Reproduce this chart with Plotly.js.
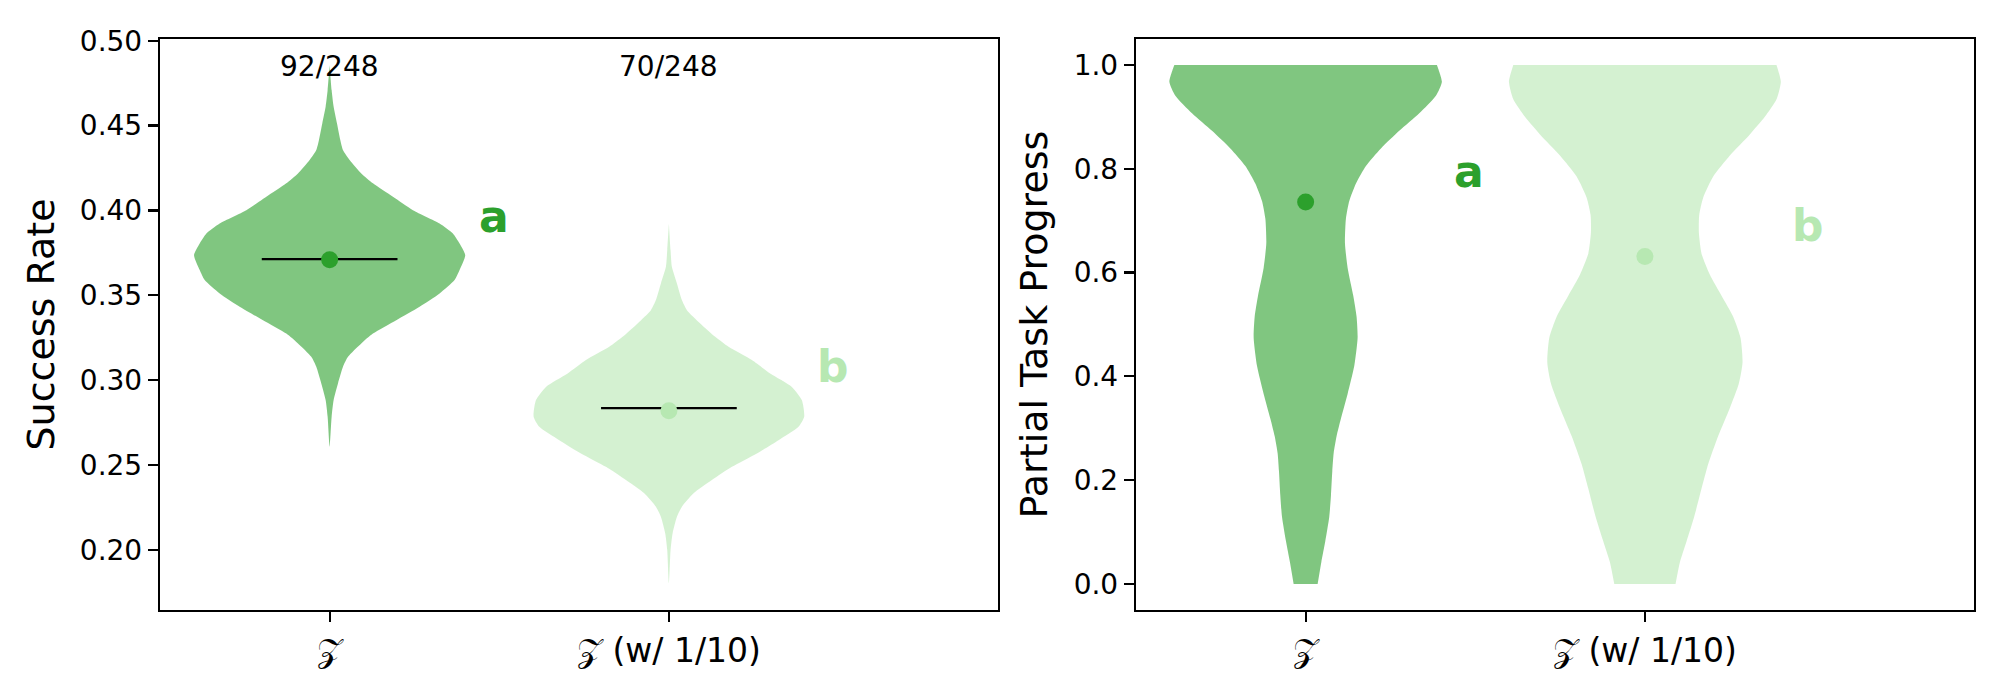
<!DOCTYPE html>
<html>
<head>
<meta charset="utf-8">
<script src="https://cdn.plot.ly/plotly-3.0.1.min.js"></script>
<style>
  body { margin: 0; background: #fff; }
  #graph { width: 2000px; height: 700px; }
</style>
</head>
<body>
<div id="graph"></div>
<script>
// categories
const groups = ["𝒵", "𝒵 (w/ 1/10)"];
const positions = [1, 2];
const letters = ["a", "b"];
const colors = ["#2ca02c", "#b7e8b2"];

// left panel: success rate
const successCounts = ["92/248", "70/248"];
const successMeans = [0.371, 0.282];
const successMedians = [0.3714, 0.2836];

// violin outlines (value, half width)
const successZ_y = [0.2608, 0.2785, 0.2883, 0.2981, 0.3079, 0.3138, 0.3217, 0.3275, 0.3354, 0.3433, 0.3511, 0.3590, 0.3649, 0.3737, 0.3806, 0.3865, 0.3924, 0.4002, 0.4081, 0.4160, 0.4218, 0.4297, 0.4356, 0.4415, 0.4513, 0.4611, 0.4709, 0.4856];
const successZ_w = [0, 0.0059, 0.0118, 0.0246, 0.0393, 0.054, 0.0933, 0.1277, 0.1964, 0.2651, 0.3241, 0.3683, 0.383, 0.3997, 0.383, 0.3633, 0.3241, 0.2455, 0.1866, 0.1277, 0.0933, 0.0589, 0.0393, 0.0314, 0.0216, 0.0118, 0.0059, 0];
const successZ10_y = [0.1804, 0.2000, 0.2098, 0.2196, 0.2255, 0.2334, 0.2412, 0.2490, 0.2569, 0.2647, 0.2726, 0.2785, 0.2883, 0.2961, 0.3040, 0.3119, 0.3197, 0.3256, 0.3335, 0.3413, 0.3472, 0.3570, 0.3668, 0.3767, 0.3924];
const successZ10_w = [0, 0.0049, 0.0108, 0.0236, 0.0383, 0.0727, 0.1267, 0.1856, 0.2592, 0.3231, 0.382, 0.3987, 0.3918, 0.3624, 0.2985, 0.2445, 0.1758, 0.1365, 0.0923, 0.053, 0.0383, 0.0236, 0.0088, 0.0049, 0];

// right panel: partial task progress
const progressMeans = [0.736, 0.631];
const progressZ_y = [0, 0.0419, 0.0824, 0.1297, 0.1703, 0.2176, 0.2514, 0.2851, 0.3189, 0.3662, 0.4203, 0.4743, 0.5149, 0.5554, 0.6095, 0.6568, 0.7041, 0.7378, 0.7716, 0.8054, 0.8392, 0.8730, 0.9068, 0.9405, 0.9676, 1.0];
const progressZ_w = [0.0354, 0.0462, 0.0579, 0.0697, 0.0746, 0.0786, 0.0825, 0.0913, 0.1041, 0.1237, 0.1434, 0.1532, 0.1502, 0.1404, 0.1237, 0.1159, 0.1188, 0.1286, 0.1483, 0.1777, 0.2219, 0.2759, 0.3349, 0.384, 0.4016, 0.3869];
const progressZ10_y = [0, 0.0419, 0.0824, 0.1297, 0.1838, 0.2311, 0.2851, 0.3392, 0.3865, 0.4270, 0.4743, 0.5149, 0.5554, 0.5959, 0.6365, 0.677, 0.7108, 0.7446, 0.7851, 0.8257, 0.8662, 0.9, 0.9338, 0.9676, 1.0];
const progressZ10_w = [0.0903, 0.1031, 0.1228, 0.1453, 0.1669, 0.1866, 0.216, 0.2504, 0.2769, 0.2877, 0.2818, 0.2602, 0.2259, 0.1915, 0.1669, 0.1591, 0.1601, 0.1719, 0.2013, 0.2504, 0.3093, 0.3535, 0.3879, 0.4007, 0.3879];

// letter label positions
const successLetterY = [0.380, 0.292];
const progressLetterY = [0.742, 0.637];

const FONT = "DejaVu Sans";

function fade(hex, a) {
  const r = parseInt(hex.slice(1, 3), 16);
  const g = parseInt(hex.slice(3, 5), 16);
  const b = parseInt(hex.slice(5, 7), 16);
  return `rgba(${r},${g},${b},${a})`;
}

function violin(pos, ys, ws, color, xa, ya) {
  const x = [];
  const y = [];
  const n = ys.length;
  for (let i = 0; i < n; i++) {
    x.push(pos + ws[i]);
    y.push(ys[i]);
  }
  // repeat the top corners so the spline keeps a flat, sharp top
  x.push(pos + ws[n - 1]);
  y.push(ys[n - 1]);
  x.push(pos - ws[n - 1]);
  y.push(ys[n - 1]);
  for (let i = n - 1; i >= 0; i--) {
    x.push(pos - ws[i]);
    y.push(ys[i]);
  }
  return {
    x: x, y: y, xaxis: xa, yaxis: ya,
    type: "scatter", mode: "lines", fill: "toself",
    fillcolor: fade(color, 0.6),
    line: { width: 0, shape: "spline", smoothing: 0.6, simplify: false, color: fade(color, 0) },
    hoverinfo: "skip", showlegend: false,
  };
}

const traces = [
  violin(positions[0], successZ_y, successZ_w, colors[0], "x", "y"),
  violin(positions[1], successZ10_y, successZ10_w, colors[1], "x", "y"),
  violin(positions[0], progressZ_y, progressZ_w, colors[0], "x2", "y2"),
  violin(positions[1], progressZ10_y, progressZ10_w, colors[1], "x2", "y2"),
];

// black centre lines on the left panel
positions.forEach((p, i) => {
  traces.push({
    x: [p - 0.2, p + 0.2], y: [successMedians[i], successMedians[i]],
    xaxis: "x", yaxis: "y", type: "scatter", mode: "lines",
    line: { color: "black", width: 2.2 }, hoverinfo: "skip", showlegend: false,
  });
});

// mean dots
traces.push({
  x: positions, y: successMeans, xaxis: "x", yaxis: "y",
  type: "scatter", mode: "markers",
  marker: { color: colors, size: 17 }, hoverinfo: "skip", showlegend: false,
});
traces.push({
  x: positions, y: progressMeans, xaxis: "x2", yaxis: "y2",
  type: "scatter", mode: "markers",
  marker: { color: colors, size: 17 }, hoverinfo: "skip", showlegend: false,
});

const annotations = [];
positions.forEach((p, i) => {
  annotations.push({
    x: p, y: 0.474, xref: "x", yref: "y", text: successCounts[i],
    showarrow: false, xanchor: "center", yanchor: "bottom",
    font: { family: FONT, size: 28, color: "black" },
  });
  annotations.push({
    x: p + 0.485, y: successLetterY[i], xref: "x", yref: "y",
    text: "<b>" + letters[i] + "</b>",
    showarrow: false, xanchor: "center", yanchor: "bottom",
    font: { family: FONT, size: 44, color: colors[i] },
  });
  annotations.push({
    x: p + 0.482, y: progressLetterY[i], xref: "x2", yref: "y2",
    text: "<b>" + letters[i] + "</b>",
    showarrow: false, xanchor: "center", yanchor: "bottom",
    font: { family: FONT, size: 44, color: colors[i] },
  });
});

const xCommon = {
  range: [0.5, 2.97],
  tickvals: positions, ticktext: groups,
  ticks: "outside", ticklen: 10, tickwidth: 2.2, tickcolor: "black",
  showline: true, mirror: true, linecolor: "black", linewidth: 2.2,
  showgrid: false, zeroline: false,
  tickfont: { family: FONT, size: 33, color: "black" },
};
const yCommon = {
  ticks: "outside", ticklen: 10, tickwidth: 2.2, tickcolor: "black",
  showline: true, mirror: true, linecolor: "black", linewidth: 2.2,
  showgrid: false, zeroline: false,
  tickfont: { family: FONT, size: 28, color: "black" },
};

const layout = {
  width: 2000, height: 700,
  margin: { l: 0, r: 0, t: 0, b: 0 },
  paper_bgcolor: "white", plot_bgcolor: "white",
  showlegend: false,
  xaxis: Object.assign({}, xCommon, { domain: [0.08, 0.499], anchor: "y" }),
  yaxis: Object.assign({}, yCommon, {
    domain: [0.1286, 0.9443], anchor: "x",
    range: [0.1647, 0.501], tickvals: [0.20, 0.25, 0.30, 0.35, 0.40, 0.45, 0.50],
    tickformat: ".2f",
    title: { text: "Success Rate", font: { family: FONT, size: 38, color: "black" }, standoff: 14 },
  }),
  xaxis2: Object.assign({}, xCommon, { domain: [0.568, 0.987], anchor: "y2" }),
  yaxis2: Object.assign({}, yCommon, {
    domain: [0.1286, 0.9443], anchor: "x2",
    range: [-0.05, 1.05], tickvals: [0, 0.2, 0.4, 0.6, 0.8, 1.0],
    tickformat: ".1f",
    title: { text: "Partial Task Progress", font: { family: FONT, size: 38, color: "black" }, standoff: 14 },
  }),
  annotations: annotations,
};

Plotly.newPlot("graph", traces, layout, { staticPlot: true });
</script>
</body>
</html>
